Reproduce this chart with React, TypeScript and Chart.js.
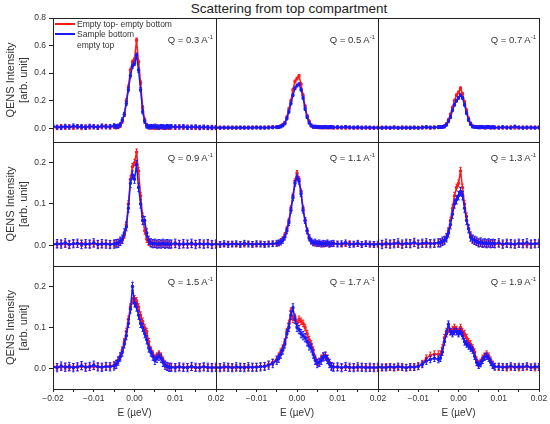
import { useEffect, useRef } from 'react'
import { Chart, registerables } from 'chart.js'

Chart.register(...registerables)
Chart.defaults.font.family = '"Liberation Sans", Arial, sans-serif'

// energy transfer grid (denser around the quasi-elastic peak)
const energy = [
  -0.02, -0.019, -0.018, -0.017, -0.016, -0.015, -0.014, -0.013, -0.012, -0.011, -0.01, -0.009, -0.008, -0.007, -0.006, -0.005,
  -0.0045, -0.004, -0.0035, -0.003, -0.0025, -0.002, -0.0015, -0.001, -0.0005, 0, 0.0005, 0.001, 0.0015, 0.002, 0.0025, 0.003,
  0.0035, 0.004, 0.0045, 0.005, 0.0055, 0.006, 0.0065, 0.007, 0.0075, 0.008, 0.0085,
  0.009, 0.01, 0.011, 0.012, 0.013, 0.014, 0.015, 0.016, 0.017, 0.018, 0.019, 0.02,
]

const qValues = ['0.3', '0.5', '0.7', '0.9', '1.1', '1.3', '1.5', '1.7', '1.9']

// red: empty top - empty bottom, blue: sample bottom - empty top
const emptyQ03 = [
  0.01, 0.004, 0.012, 0.006, 0.01, 0.005, 0.012, 0.004, 0.01, 0.008, 0.012, 0.006, 0.01, 0.014, 0.008, 0.012,
  0.01, 0.012, 0.02, 0.05, 0.1, 0.2, 0.3, 0.42, 0.48, 0.5, 0.64, 0.48, 0.33, 0.15, 0.06, 0.02, 0.01, 0.008, 0.01, 0.005, 0.008, 0.006, 0.01, 0.008, 0.005, 0.008, 0.006,
  0.008, 0.006, 0.01, 0.005, 0.008, 0.006, 0.005, 0.004, 0.006, 0.005, 0.004, 0.005,
]
const sampleQ03 = [
  0.015, 0.008, 0.005, 0.014, 0.008, 0.016, 0.01, 0.012, 0.006, 0.014, 0.01, 0.008, 0.016, 0.01, 0.012, 0.018,
  0.012, 0.015, 0.025, 0.06, 0.1, 0.18, 0.28, 0.38, 0.45, 0.47, 0.53, 0.42, 0.28, 0.12, 0.05, 0.015, 0.01, 0.012, 0.01, 0.015, 0.01, 0.008, 0.012, 0.01, 0.008, 0.012, 0.01,
  0.012, 0.01, 0.008, 0.012, 0.006, 0.008, 0.01, 0.006, 0.008, 0.005, 0.006, 0.005,
]
const emptyQ05 = [
  0.004, 0.006, 0.003, 0.005, 0.004, 0.006, 0.003, 0.005, 0.004, 0.006, 0.005, 0.004, 0.006, 0.005, 0.008, 0.008,
  0.01, 0.015, 0.025, 0.04, 0.08, 0.14, 0.2, 0.28, 0.34, 0.36, 0.38, 0.32, 0.24, 0.16, 0.09, 0.05, 0.02, 0.012, 0.008, 0.01, 0.006, 0.008, 0.005, 0.006, 0.008, 0.005, 0.006,
  0.005, 0.004, 0.006, 0.003, 0.005, 0.004, 0.003, 0.005, 0.004, 0.003, 0.004, 0.003,
]
const sampleQ05 = [
  0.005, 0.003, 0.006, 0.004, 0.005, 0.003, 0.006, 0.004, 0.005, 0.004, 0.006, 0.005, 0.004, 0.006, 0.006, 0.007,
  0.008, 0.012, 0.02, 0.035, 0.07, 0.12, 0.18, 0.24, 0.29, 0.31, 0.32, 0.28, 0.22, 0.14, 0.08, 0.04, 0.02, 0.01, 0.012, 0.008, 0.01, 0.006, 0.008, 0.01, 0.006, 0.008, 0.01,
  0.006, 0.008, 0.005, 0.01, 0.006, 0.005, 0.007, 0.004, 0.006, 0.005, 0.004, 0.005,
]
const emptyQ07 = [
  0.003, 0.005, 0.004, 0.003, 0.005, 0.004, 0.006, 0.003, 0.005, 0.004, 0.003, 0.006, 0.005, 0.004, 0.006, 0.008,
  0.01, 0.008, 0.015, 0.03, 0.06, 0.1, 0.15, 0.2, 0.24, 0.26, 0.29, 0.25, 0.19, 0.13, 0.07, 0.035, 0.015, 0.01, 0.008, 0.01, 0.006, 0.008, 0.005, 0.006, 0.008, 0.005, 0.006,
  0.005, 0.006, 0.004, 0.005, 0.007, 0.004, 0.005, 0.006, 0.004, 0.005, 0.006, 0.005,
]
const sampleQ07 = [
  0.004, 0.003, 0.005, 0.004, 0.006, 0.003, 0.004, 0.005, 0.003, 0.006, 0.004, 0.005, 0.008, 0.005, 0.006, 0.007,
  0.008, 0.01, 0.012, 0.025, 0.05, 0.08, 0.13, 0.17, 0.2, 0.22, 0.24, 0.22, 0.17, 0.11, 0.06, 0.03, 0.012, 0.01, 0.008, 0.006, 0.01, 0.008, 0.006, 0.01, 0.008, 0.006, 0.008,
  0.006, 0.004, 0.008, 0.005, 0.004, 0.012, 0.005, 0.004, 0.006, 0.005, 0.004, 0.006,
]
const emptyQ09 = [
  0.003, 0.002, 0.004, 0.003, 0.002, 0.004, 0.003, 0.005, 0.002, 0.003, 0.004, 0.003, 0.002, 0.004, 0.003, 0.004,
  0.005, 0.006, 0.008, 0.012, 0.025, 0.05, 0.1, 0.16, 0.19, 0.2, 0.225, 0.18, 0.12, 0.07, 0.035, 0.015, 0.008, 0.005, 0.003, 0.004, 0.003, 0.002, 0.004, 0.003, 0.002, 0.003, 0.002,
  0.003, 0.002, 0.004, 0.002, 0.003, 0.002, 0.004, 0.003, 0.002, 0.003, 0.002, 0.003,
]
const sampleQ09 = [
  0.002, 0.004, 0.003, 0.006, 0.002, 0.004, 0.005, 0.002, 0.004, 0.003, 0.006, 0.002, 0.004, 0.003, 0.002, 0.003,
  0.004, 0.005, 0.01, 0.015, 0.03, 0.045, 0.09, 0.15, 0.17, 0.16, 0.195, 0.14, 0.1, 0.06, 0.06, 0.03, 0.012, 0.006, 0.004, 0.005, 0.003, 0.004, 0.003, 0.005, 0.003, 0.004, 0.003,
  0.003, 0.005, 0.002, 0.004, 0.003, 0.005, 0.002, 0.004, 0.003, 0.004, 0.002, 0.003,
]
const emptyQ11 = [
  0.002, 0.003, 0.002, 0.004, 0.003, 0.002, 0.003, 0.002, 0.004, 0.003, 0.002, 0.004, 0.003, 0.004, 0.003, 0.004,
  0.005, 0.01, 0.015, 0.025, 0.04, 0.06, 0.09, 0.12, 0.155, 0.175, 0.16, 0.13, 0.09, 0.06, 0.035, 0.02, 0.01, 0.006, 0.004, 0.005, 0.003, 0.004, 0.002, 0.003, 0.004, 0.002, 0.003,
  0.003, 0.004, 0.002, 0.003, 0.005, 0.002, 0.003, 0.002, 0.004, 0.002, 0.003, 0.002,
]
const sampleQ11 = [
  0.003, 0.002, 0.004, 0.002, 0.003, 0.004, 0.002, 0.005, 0.003, 0.002, 0.004, 0.003, 0.002, 0.003, 0.004, 0.005,
  0.006, 0.008, 0.012, 0.02, 0.035, 0.055, 0.085, 0.115, 0.15, 0.165, 0.155, 0.125, 0.085, 0.06, 0.035, 0.018, 0.01, 0.006, 0.008, 0.004, 0.006, 0.003, 0.005, 0.004, 0.006, 0.003, 0.004,
  0.005, 0.003, 0.004, 0.006, 0.002, 0.003, 0.005, 0.002, 0.004, 0.003, 0.002, 0.003,
]
const emptyQ13 = [
  0.003, 0.004, 0.002, 0.003, 0.005, 0.003, 0.002, 0.004, 0.003, 0.005, 0.003, 0.004, 0.003, 0.005, 0.004, 0.005,
  0.006, 0.008, 0.012, 0.02, 0.035, 0.06, 0.09, 0.12, 0.14, 0.15, 0.18, 0.14, 0.1, 0.07, 0.04, 0.025, 0.015, 0.012, 0.008, 0.006, 0.005, 0.004, 0.005, 0.003, 0.004, 0.003, 0.004,
  0.003, 0.004, 0.002, 0.004, 0.003, 0.002, 0.004, 0.003, 0.002, 0.003, 0.004, 0.003,
]
const sampleQ13 = [
  0.004, 0.002, 0.005, 0.003, 0.004, 0.006, 0.003, 0.005, 0.004, 0.007, 0.003, 0.005, 0.006, 0.004, 0.005, 0.006,
  0.006, 0.01, 0.012, 0.018, 0.03, 0.05, 0.075, 0.1, 0.11, 0.12, 0.13, 0.12, 0.09, 0.06, 0.04, 0.02, 0.015, 0.012, 0.01, 0.006, 0.008, 0.005, 0.006, 0.004, 0.006, 0.004, 0.005,
  0.004, 0.006, 0.003, 0.005, 0.004, 0.003, 0.005, 0.004, 0.006, 0.003, 0.004, 0.005,
]
const emptyQ15 = [
  0.003, 0.004, 0.003, 0.005, 0.002, 0.004, 0.003, 0.005, 0.004, 0.003, 0.005, 0.004, 0.003, 0.005, 0.006, 0.008,
  0.012, 0.02, 0.03, 0.045, 0.065, 0.09, 0.12, 0.15, 0.165, 0.17, 0.165, 0.15, 0.13, 0.115, 0.1, 0.09, 0.065, 0.045, 0.035, 0.025, 0.03, 0.035, 0.03, 0.02, 0.01, 0.006, 0.004,
  0.003, 0.004, 0.003, 0.002, 0.004, 0.003, 0.002, 0.003, 0.004, 0.002, 0.003, 0.002,
]
const sampleQ15 = [
  0.004, 0.002, 0.006, 0.003, 0.005, 0.002, 0.004, 0.007, 0.003, 0.005, 0.008, 0.004, 0.003, 0.005, 0.004, 0.006,
  0.01, 0.018, 0.028, 0.04, 0.06, 0.08, 0.11, 0.145, 0.2, 0.16, 0.15, 0.13, 0.11, 0.1, 0.085, 0.07, 0.05, 0.04, 0.03, 0.02, 0.025, 0.03, 0.025, 0.015, 0.008, 0.005, 0.003,
  0.003, 0.002, 0.004, 0.003, 0.002, 0.005, 0.003, 0.002, 0.004, 0.003, 0.002, 0.003,
]
const emptyQ17 = [
  0.002, 0.003, 0.002, 0.004, 0.003, 0.002, 0.003, 0.004, 0.002, 0.003, 0.004, 0.005, 0.006, 0.01, 0.015, 0.022,
  0.03, 0.04, 0.05, 0.065, 0.09, 0.11, 0.14, 0.12, 0.125, 0.11, 0.12, 0.115, 0.11, 0.1, 0.085, 0.07, 0.06, 0.045, 0.025, 0.015, 0.015, 0.025, 0.03, 0.032, 0.025, 0.015, 0.006,
  0.004, 0.003, 0.002, 0.003, 0.002, 0.003, 0.002, 0.003, 0.004, 0.002, 0.003, 0.002,
]
const sampleQ17 = [
  0.003, 0.002, 0.004, 0.003, 0.002, 0.004, 0.003, 0.002, 0.004, 0.003, 0.003, 0.004, 0.005, 0.008, 0.012, 0.02,
  0.025, 0.035, 0.045, 0.06, 0.085, 0.1, 0.13, 0.148, 0.12, 0.1, 0.095, 0.085, 0.08, 0.075, 0.065, 0.055, 0.05, 0.035, 0.02, 0.012, 0.015, 0.02, 0.028, 0.03, 0.022, 0.012, 0.005,
  0.003, 0.004, 0.002, 0.005, 0.003, 0.002, 0.004, 0.003, 0.002, 0.003, 0.002, 0.003,
]
const emptyQ19 = [
  0.003, 0.002, 0.004, 0.003, 0.002, 0.003, 0.004, 0.002, 0.003, 0.004, 0.006, 0.012, 0.025, 0.032, 0.035, 0.035,
  0.035, 0.05, 0.075, 0.09, 0.095, 0.09, 0.095, 0.1, 0.095, 0.09, 0.1, 0.09, 0.085, 0.075, 0.065, 0.06, 0.05, 0.04, 0.02, 0.012, 0.015, 0.025, 0.03, 0.035, 0.03, 0.02, 0.01,
  0.005, 0.003, 0.004, 0.002, 0.003, 0.004, 0.002, 0.003, 0.004, 0.003, 0.002, 0.003,
]
const sampleQ19 = [
  0.004, 0.003, 0.002, 0.004, 0.003, 0.005, 0.003, 0.002, 0.004, 0.003, 0.005, 0.01, 0.018, 0.022, 0.025, 0.022,
  0.025, 0.04, 0.065, 0.085, 0.108, 0.09, 0.085, 0.09, 0.09, 0.085, 0.09, 0.08, 0.065, 0.06, 0.055, 0.05, 0.045, 0.03, 0.015, 0.008, 0.012, 0.02, 0.028, 0.03, 0.025, 0.015, 0.008,
  0.004, 0.005, 0.003, 0.004, 0.006, 0.003, 0.005, 0.004, 0.006, 0.003, 0.005, 0.004,
]

// error bar half-heights per panel
const emptyErr = [0.015, 0.01, 0.01, 0.008, 0.006, 0.008, 0.008, 0.008, 0.008]
const sampleErr = [0.015, 0.01, 0.01, 0.01, 0.007, 0.01, 0.01, 0.01, 0.008]

const xTicks = [-0.02, -0.015, -0.01, -0.005, 0, 0.005, 0.01, 0.015, 0.02]
const xTickLabels = ['\u22120.02', '', '\u22120.01', '', '0.00', '', '0.01', '', '0.02']
const yTicksTop = [0, 0.2, 0.4, 0.6, 0.8]
const yTicksLower = [0, 0.1, 0.2]

const emptySeries = [emptyQ03, emptyQ05, emptyQ07, emptyQ09, emptyQ11, emptyQ13, emptyQ15, emptyQ17, emptyQ19]
const sampleSeries = [sampleQ03, sampleQ05, sampleQ07, sampleQ09, sampleQ11, sampleQ13, sampleQ15, sampleQ17, sampleQ19]

const colEdges = [53, 216, 378, 539]
const rowEdges = [18, 142, 266, 389]
const qLabelY = [40, 158, 282]
const PAD = 14
const Y_AXIS_W = 53
const X_AXIS_H = 35

const RED = '#ff1a1a'
const BLUE = '#1a1aff'

const errorBars = {
  id: 'errorBars',
  afterDatasetDraw(chart: any, args: any) {
    const ds = chart.data.datasets[args.index]
    const { ctx, chartArea, scales } = chart
    ctx.save()
    ctx.beginPath()
    ctx.rect(chartArea.left, chartArea.top, chartArea.width, chartArea.height)
    ctx.clip()
    ctx.strokeStyle = ds.borderColor
    ctx.lineWidth = 1
    ctx.beginPath()
    ds.data.forEach((p: { x: number; y: number }) => {
      const x = scales.x.getPixelForValue(p.x)
      const y1 = scales.y.getPixelForValue(p.y - ds.err)
      const y2 = scales.y.getPixelForValue(p.y + ds.err)
      ctx.moveTo(x, y1)
      ctx.lineTo(x, y2)
      ctx.moveTo(x - 1.2, y1)
      ctx.lineTo(x + 1.2, y1)
      ctx.moveTo(x - 1.2, y2)
      ctx.lineTo(x + 1.2, y2)
    })
    ctx.stroke()
    ctx.restore()
  },
}

const frame = {
  id: 'frame',
  afterDraw(chart: any) {
    const { ctx, chartArea } = chart
    ctx.save()
    ctx.strokeStyle = '#222'
    ctx.lineWidth = 1
    ctx.strokeRect(chartArea.left + 0.5, chartArea.top + 0.5, chartArea.width, chartArea.height)
    ctx.restore()
  },
}

const Panel = ({ index }: { index: number }) => {
  const canvasRef = useRef<HTMLCanvasElement>(null)
  const row = Math.floor(index / 3)
  const col = index % 3
  const left = (col === 0 ? 0 : colEdges[col]) - PAD
  const width = colEdges[col + 1] + PAD - left
  const top = rowEdges[row] - PAD
  const height = rowEdges[row + 1] - rowEdges[row] + 2 * PAD + (row === 2 ? X_AXIS_H : 0)

  useEffect(() => {
    if (!canvasRef.current) return
    const yTicks = row === 0 ? yTicksTop : yTicksLower
    const chart = new Chart(canvasRef.current, {
      type: 'line',
      data: {
        datasets: [
          {
            label: 'Empty top- empty bottom',
            data: energy.map((x, i) => ({ x, y: emptySeries[index][i] })),
            borderColor: RED,
            backgroundColor: RED,
            borderWidth: 1.5,
            pointRadius: 1,
            tension: 0,
            order: 1,
            err: emptyErr[index],
          } as any,
          {
            label: 'Sample bottom empty top',
            data: energy.map((x, i) => ({ x, y: sampleSeries[index][i] })),
            borderColor: BLUE,
            backgroundColor: BLUE,
            borderWidth: 1.5,
            pointRadius: 1,
            tension: 0,
            order: 0,
            err: sampleErr[index],
          } as any,
        ],
      },
      options: {
        responsive: false,
        animation: false,
        events: [],
        layout: { padding: PAD },
        plugins: { legend: { display: false }, tooltip: { enabled: false } },
        scales: {
          x: {
            type: 'linear',
            min: -0.02,
            max: 0.02,
            display: row === 2,
            afterBuildTicks: (scale: any) => {
              scale.ticks = xTicks.map((v) => ({ value: v }))
            },
            afterFit: (scale: any) => {
              if (row === 2) scale.height = X_AXIS_H
            },
            border: { display: false },
            grid: { display: true, drawOnChartArea: false, drawTicks: true, tickLength: 3, color: '#222' },
            ticks: {
              color: '#333',
              font: { size: 8.5 },
              padding: 2,
              maxRotation: 0,
              autoSkip: false,
              callback: (_v: any, i: number) => (col > 0 && i === 0 ? '' : xTickLabels[i]),
            },
            title: {
              display: true,
              text: 'E (\u00b5eV)',
              color: '#333',
              font: { size: 10 },
              padding: { top: 0, bottom: 5 },
            },
          },
          y: {
            type: 'linear',
            min: row === 0 ? -0.1 : -0.05,
            max: row === 0 ? 0.8 : 0.25,
            display: col === 0,
            afterBuildTicks: (scale: any) => {
              scale.ticks = yTicks.map((v) => ({ value: v }))
            },
            afterFit: (scale: any) => {
              if (col === 0) scale.width = Y_AXIS_W
            },
            border: { display: false },
            grid: { display: true, drawOnChartArea: false, drawTicks: true, tickLength: 4, color: '#222' },
            ticks: {
              color: '#333',
              font: { size: 8.5 },
              padding: 3,
              callback: (v: any) => Number(v).toFixed(1),
            },
            title: {
              display: true,
              text: ['QENS Intensity', '[arb. unit]'],
              color: '#333',
              font: { size: 11 },
              padding: { top: 4, bottom: 0 },
            },
          },
        },
      },
      plugins: [errorBars, frame],
    })
    return () => chart.destroy()
  }, [index, row, col])

  return (
    <canvas
      ref={canvasRef}
      width={width}
      height={height}
      style={{ position: 'absolute', left, top, width, height }}
    />
  )
}

const QLabel = ({ index }: { index: number }) => {
  const row = Math.floor(index / 3)
  const col = index % 3
  return (
    <div
      style={{
        position: 'absolute',
        right: 550 - colEdges[col + 1] + 3,
        top: qLabelY[row] - 6,
        fontSize: 9.5,
        lineHeight: '12px',
        color: '#333',
        whiteSpace: 'nowrap',
      }}
    >
      Q = {qValues[index]} A
      <span style={{ fontSize: 6, position: 'relative', top: -4 }}>-1</span>
    </div>
  )
}

const App = () => {
  useEffect(() => {
    document.body.style.margin = '0'
  }, [])

  return (
    <div
      style={{
        position: 'fixed',
        left: 0,
        top: 0,
        width: 550,
        height: 424,
        background: '#fff',
        overflow: 'hidden',
        fontFamily: '"Liberation Sans", Arial, sans-serif',
      }}
    >
      <div
        style={{
          position: 'absolute',
          left: 0,
          width: 578,
          top: 1,
          textAlign: 'center',
          fontSize: 13.5,
          lineHeight: '16px',
          color: '#222',
        }}
      >
        Scattering from top compartment
      </div>
      {qValues.map((_, i) => (
        <Panel key={i} index={i} />
      ))}
      {qValues.map((_, i) => (
        <QLabel key={i} index={i} />
      ))}
      <div style={{ position: 'absolute', left: 55, top: 23, width: 20, height: 1.5, background: RED }} />
      <div style={{ position: 'absolute', left: 55, top: 33, width: 20, height: 1.5, background: BLUE }} />
      <div style={{ position: 'absolute', left: 77, top: 18.5, fontSize: 8.5, lineHeight: '11px', color: '#333', whiteSpace: 'nowrap' }}>
        Empty top- empty bottom
      </div>
      <div style={{ position: 'absolute', left: 77, top: 28.5, fontSize: 8.5, lineHeight: '11.5px', color: '#333', whiteSpace: 'nowrap' }}>
        Sample bottom
        <br />
        empty top
      </div>
    </div>
  )
}

export default App
